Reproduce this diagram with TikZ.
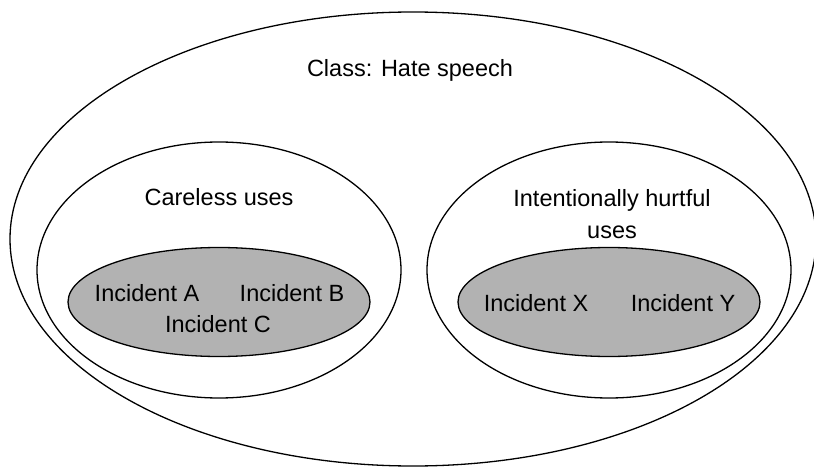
\documentclass[tikz,border=0pt]{standalone}
\usepackage{fontspec}
\setmainfont{Liberation Sans}
\usetikzlibrary{shapes.geometric}
\begin{document}
\begin{tikzpicture}[x=1pt,y=-1pt,
  ring/.style={draw=black,line width=1.3pt,ellipse,inner sep=0pt},
  shaded/.style={ring,fill=black!30},
  lbl/.style={font=\fontsize{23.5}{27}\selectfont,inner sep=0pt,anchor=base}]
\useasboundingbox (0,0) rectangle (814,468);
\node[ring,minimum width=806pt,minimum height=454pt] (outer) at (413,239) {};
\node[ring,minimum width=364pt,minimum height=256pt] (left) at (219,270) {};
\node[ring,minimum width=364pt,minimum height=256pt] (right) at (609,270) {};
\node[shaded,minimum width=302pt,minimum height=109pt] (linner) at (219,302) {};
\node[shaded,minimum width=302pt,minimum height=109pt] (rinner) at (609,302) {};
\node[lbl] (cls) at (410,77) {Class: Hate speech};
\node[lbl] (care) at (219,205) {Careless uses};
\node[lbl] (int1) at (612,206) {Intentionally hurtful};
\node[lbl] (int2) at (612,238) {uses};
\node[lbl] (ia) at (147,301) {Incident A};
\node[lbl] (ib) at (292,301) {Incident B};
\node[lbl] (ic) at (218,332) {Incident C};
\node[lbl] (ix) at (536,311) {Incident X};
\node[lbl] (iy) at (683,311) {Incident Y};
\end{tikzpicture}
\end{document}
